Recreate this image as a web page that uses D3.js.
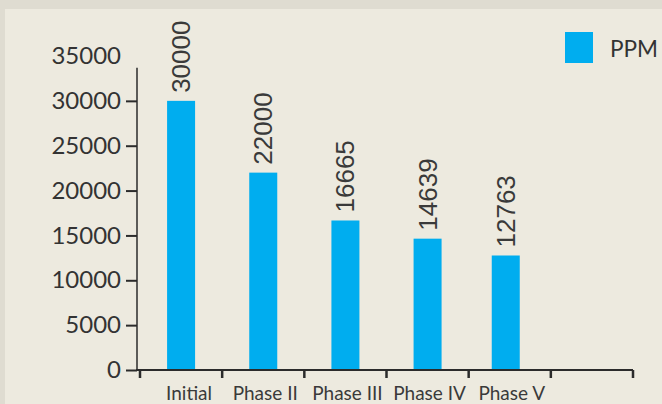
<!DOCTYPE html>
<html>
<head>
<meta charset="utf-8">
<script src="https://cdn.jsdelivr.net/npm/d3@7"></script>
<style>
  html, body { margin: 0; padding: 0; background: #dfdcd1; }
  svg { display: block; }
</style>
</head>
<body>
<svg id="chart" width="662" height="404"></svg>
<script>
// ---- data ----
const categories = ["Initial", "Phase II", "Phase III", "Phase IV", "Phase V", ""];
const seriesName = "PPM";
const values = [30000, 22000, 16665, 14639, 12763];
const yTickValues = [0, 5000, 10000, 15000, 20000, 25000, 30000];
const yTopLabel = 35000;
const yAxisTopValue = 33700;

const W = 662, H = 404;
const svg = d3.select("#chart");

// background panel
svg.append("rect").attr("x", 0).attr("y", 0).attr("width", W).attr("height", H).attr("fill", "#dfdcd1");
svg.append("rect").attr("x", 5).attr("y", 9).attr("width", W - 5).attr("height", H - 9).attr("fill", "#edeadf");

const x = d3.scaleBand().domain(categories).range([140, 633]).padding(0);
const y = d3.scaleLinear().domain([0, 35000]).range([370, 56]);

const barW = 28;
const ink = "#2b2b2b";

// bars
svg.append("g").selectAll("rect")
  .data(values)
  .join("rect")
  .attr("x", (d, i) => x(categories[i]) + x.bandwidth() / 2 - barW / 2 - (i === 4 ? 4 : 0))
  .attr("y", d => y(d))
  .attr("width", barW)
  .attr("height", d => y(0) - y(d))
  .attr("fill", "#00adef");

// value labels (rotated)
svg.append("g").selectAll("text")
  .data(values)
  .join("text")
  .attr("transform", (d, i) => {
    const cx = x(categories[i]) + x.bandwidth() / 2 - (i === 4 ? 4 : 0);
    return `translate(${cx + 9},${y(d) - 8}) rotate(-90)`;
  })
  .attr("text-anchor", "start")
  .attr("font-family", "'Liberation Sans', Arial, sans-serif")
  .attr("font-size", 26)
  .attr("fill", "#3a3a3a")
  .text(d => d);

// y axis
const yAxisG = svg.append("g").attr("transform", "translate(137,0)");
yAxisG.call(d3.axisLeft(y).tickValues(yTickValues).tickSize(11).tickPadding(5).tickFormat(d3.format("d")));
yAxisG.select(".domain").remove();
yAxisG.append("line")
  .attr("x1", 0).attr("x2", 0)
  .attr("y1", y(yAxisTopValue)).attr("y2", y(0) + 1)
  .attr("stroke", ink).attr("stroke-width", 1.5);
yAxisG.selectAll(".tick line").attr("stroke", ink).attr("stroke-width", 2);
yAxisG.selectAll(".tick text")
  .attr("font-family", "Lato, 'Open Sans', sans-serif")
  .attr("font-size", 24)
  .attr("fill", "#333");
// top label without tick
yAxisG.append("text")
  .attr("x", -16).attr("y", y(yTopLabel)).attr("dy", "0.32em")
  .attr("text-anchor", "end")
  .attr("font-family", "Lato, 'Open Sans', sans-serif")
  .attr("font-size", 24)
  .attr("fill", "#333")
  .text(d3.format("d")(yTopLabel));

// x axis
const xAxisG = svg.append("g").attr("transform", `translate(0,${y(0)})`);
xAxisG.append("line")
  .attr("x1", x.range()[0] - 4).attr("x2", x.range()[1])
  .attr("stroke", ink).attr("stroke-width", 2);
const boundaries = categories.map(c => x(c)).concat([x.range()[1]]);
xAxisG.selectAll("line.tk")
  .data(boundaries)
  .join("line")
  .attr("class", "tk")
  .attr("x1", d => d).attr("x2", d => d)
  .attr("y1", 0).attr("y2", 8)
  .attr("stroke", ink).attr("stroke-width", 2.5);
xAxisG.selectAll("text")
  .data(categories.filter(c => c !== ""))
  .join("text")
  .attr("x", (d, i) => x(d) + x.bandwidth() / 2 + (i === 0 ? 8 : 2))
  .attr("y", 30)
  .attr("text-anchor", "middle")
  .attr("font-family", "Lato, 'Open Sans', sans-serif")
  .attr("font-size", 19)
  .attr("fill", "#3a3a3a")
  .text(d => d);

// legend
const lg = svg.append("g");
lg.append("rect").attr("x", 565).attr("y", 32).attr("width", 28).attr("height", 31).attr("fill", "#00adef");
lg.append("text").attr("x", 610).attr("y", 57)
  .attr("font-family", "Lato, 'Open Sans', sans-serif")
  .attr("font-size", 24)
  .attr("textLength", 48)
  .attr("lengthAdjust", "spacingAndGlyphs")
  .attr("fill", "#333")
  .text(seriesName);
</script>
</body>
</html>
